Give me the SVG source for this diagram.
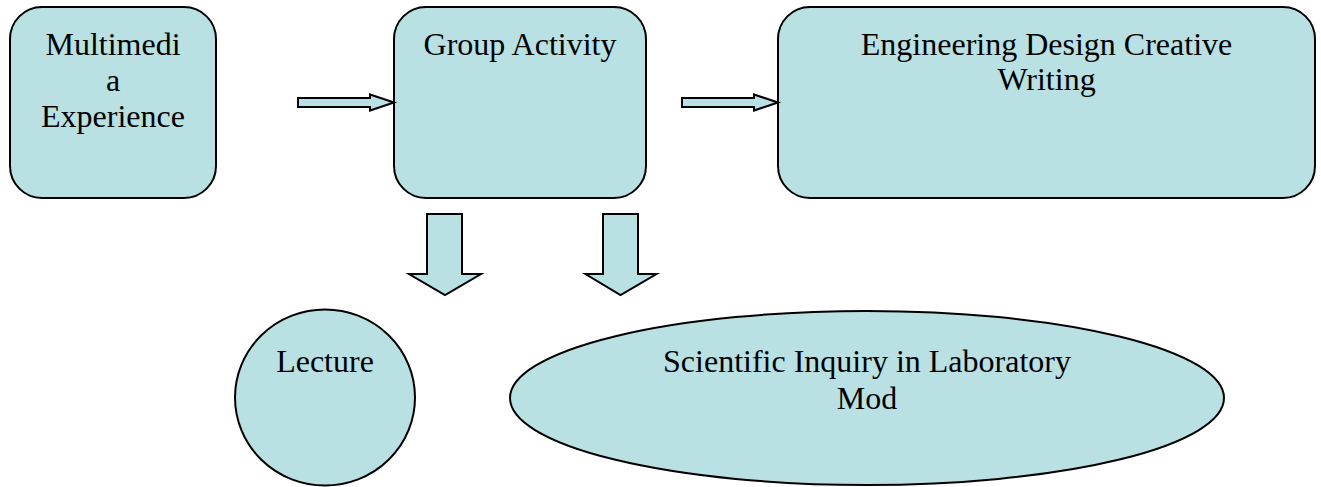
<svg xmlns="http://www.w3.org/2000/svg" width="1321" height="487" viewBox="0 0 1321 487">
<style>
.shape{fill:#B9E0E3;stroke:#000;stroke-width:2;}
.arrow{fill:#B9E0E3;stroke:#000;stroke-width:2;stroke-linejoin:miter;}
text{font-family:"Liberation Serif","Times New Roman",serif;font-size:32px;fill:#000;text-anchor:middle;}
</style>
<rect width="1321" height="487" fill="#fff"/>
<g id="multimedia">
<rect class="shape" x="10" y="7" width="206" height="191" rx="32" ry="32"/>
<text x="113" y="55">Multimedi</text>
<text x="113" y="91">a</text>
<text x="113" y="127">Experience</text>
</g>
<g id="group-activity">
<rect class="shape" x="394" y="7" width="252" height="191" rx="32" ry="32"/>
<text x="520" y="55">Group Activity</text>
</g>
<g id="engineering">
<rect class="shape" x="778" y="7" width="537" height="191" rx="32" ry="32"/>
<text x="1046.5" y="55">Engineering Design Creative</text>
<text x="1046.5" y="90">Writing</text>
</g>
<g id="lecture">
<ellipse class="shape" cx="325" cy="397.5" rx="90" ry="88"/>
<text x="325" y="372">Lecture</text>
</g>
<g id="scientific">
<ellipse class="shape" cx="867" cy="398" rx="357" ry="87"/>
<text x="867" y="372">Scientific Inquiry in Laboratory</text>
<text x="867" y="409">Mod</text>
</g>
<g id="connectors">
<polygon class="arrow" points="298,98 370,98 370,94.5 394,102.5 370,110.5 370,107 298,107"/>
<polygon class="arrow" points="682,98 754,98 754,94.5 778,102.5 754,110.5 754,107 682,107"/>
<polygon class="arrow" points="427,214 462,214 462,274 481,274 445,295 409,274 427,274"/>
<polygon class="arrow" points="603,214 638,214 638,274 656.5,274 620.5,295 585.5,274 603,274"/>
</g>
</svg>
